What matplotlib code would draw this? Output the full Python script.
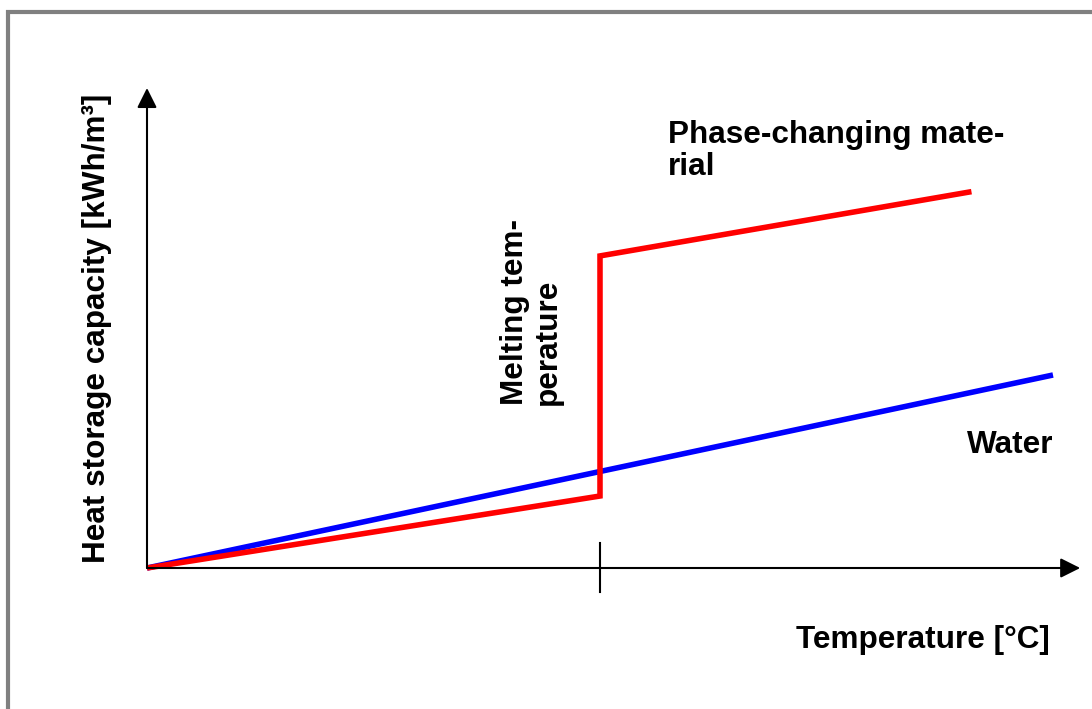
import matplotlib
matplotlib.use("Agg")
import matplotlib.pyplot as plt
from matplotlib.patches import Rectangle

# Data (arbitrary units, schematic)
water_T = [0, 100]
water_Q = [0, 100]
pcm_T = [0, 50, 50, 91]
pcm_Q = [0, 37.3, 161.7, 195]
melt_T = 50

plt.rcParams['font.family'] = ['Liberation Sans', 'DejaVu Sans']

W, H = 1092, 709
fig = plt.figure(figsize=(W / 100, H / 100), dpi=100)
ax = fig.add_axes([0, 0, 1, 1])
ax.set_axis_off()
px_x = 9.06
px_y = 1.93
ox, oy = 147, 568
ax.set_xlim(-ox / px_x, (W - ox) / px_x)
ax.set_ylim(-(H - oy) / px_y, oy / px_y)

# gray frame (left & top visible)
fig.patches.append(Rectangle((8 / W, -0.1), 1.2, (H - 12) / H + 0.1, transform=fig.transFigure,
                             fill=False, edgecolor='#808080', linewidth=3.0))

# axes arrows
arrow_kw = dict(arrowstyle='-|>,head_length=0.6,head_width=0.3', color='black', lw=1.5,
                shrinkA=0, shrinkB=0, mutation_scale=20)
ax.annotate('', xy=(103, 0), xytext=(0, 0), arrowprops=arrow_kw)
ax.annotate('', xy=(0, 248.7), xytext=(0, 0), arrowprops=arrow_kw)
# tick at melting temperature
ax.plot([melt_T, melt_T], [12.9, -12.4], color='black', lw=1.5)

ax.plot(water_T, water_Q, color='#0000FF', lw=4.0, solid_capstyle='butt')
ax.plot(pcm_T, pcm_Q, color='#FF0000', lw=4.0, solid_capstyle='butt', solid_joinstyle='miter')

fs = 22.7
ax.text(97 / W, 1 - 328 / H, 'Heat storage capacity [kWh/m³]', transform=fig.transFigure,
        rotation=90, ha='center', va='center', fontsize=fs, fontweight='bold')
ax.text(1050 / W, 1 - 640 / H, 'Temperature [°C]', transform=fig.transFigure,
        ha='right', va='center', fontsize=fs, fontweight='bold')
ax.text(668 / W, 1 - 151 / H, 'Phase-changing mate-\nrial', transform=fig.transFigure,
        ha='left', va='center', fontsize=fs, fontweight='bold', linespacing=1.12)
ax.text(531 / W, 1 - 405 / H, 'Melting tem-\nperature', transform=fig.transFigure,
        rotation=90, ha='center', va='bottom', fontsize=fs, fontweight='bold',
        multialignment='left', linespacing=1.12)
ax.text(1053 / W, 1 - 445 / H, 'Water', transform=fig.transFigure,
        ha='right', va='center', fontsize=fs, fontweight='bold')

fig.savefig('out.png', dpi=100)
